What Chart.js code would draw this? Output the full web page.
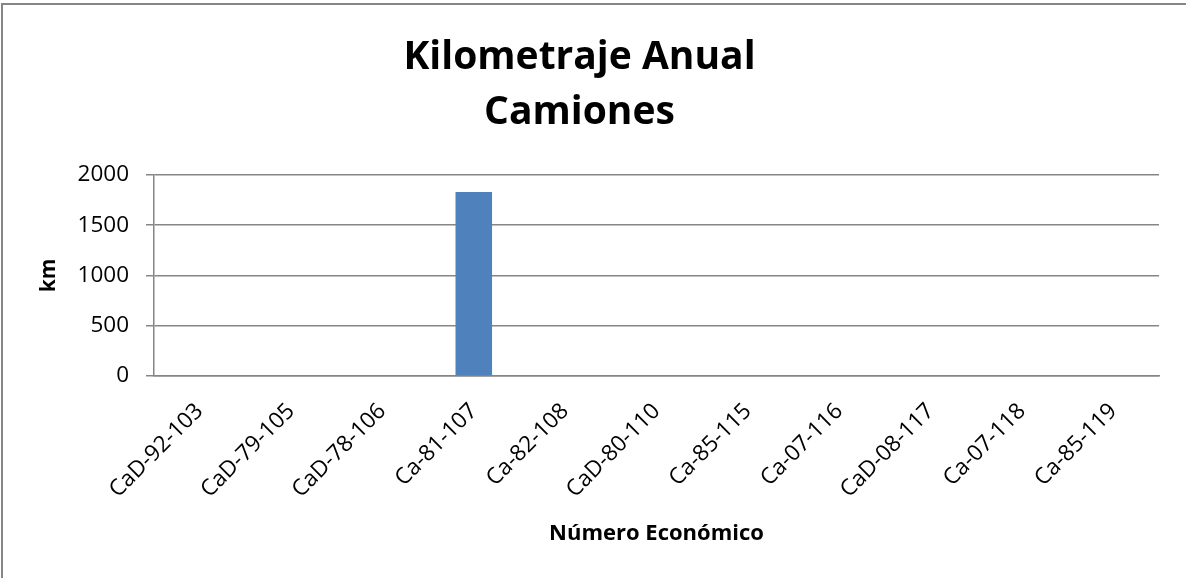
<!DOCTYPE html>
<html>
<head>
<meta charset="utf-8">
<script src="https://cdn.jsdelivr.net/npm/chart.js@4/dist/chart.umd.min.js"></script>
<style>
  html, body { margin: 0; padding: 0; background: #fff; overflow: hidden; }
  #wrap { position: relative; width: 1186px; height: 578px; }
  #frame {
    position: absolute; left: 1px; top: 3px; right: -10px; bottom: -10px;
    border: 2px solid #868686; pointer-events: none;
  }
</style>
</head>
<body>
<div id="wrap">
  <canvas id="kmChart" width="1186" height="578"></canvas>
  <div id="frame"></div>
</div>
<script>
// chart data
const camiones = [
  "CaD-92-103", "CaD-79-105", "CaD-78-106", "Ca-81-107", "Ca-82-108",
  "CaD-80-110", "Ca-85-115", "Ca-07-116", "CaD-08-117", "Ca-07-118", "Ca-85-119"
];
const kilometraje = [0, 0, 0, 1830, 0, 0, 0, 0, 0, 0, 0];
const yTicks = [0, 500, 1000, 1500, 2000];

const fontFam = "'Open Sans', Lato, sans-serif";

// build the bar chart
function createChart() {
  const ctx = document.getElementById("kmChart").getContext("2d");
  return new Chart(ctx, {
    type: "bar",
    data: {
      labels: [...camiones],
      datasets: [
        {
          label: "km",
          data: [...kilometraje],
          backgroundColor: "#4F81BD",
          categoryPercentage: 1.0,
          barPercentage: 0.4,
        },
      ],
    },
    options: {
      responsive: false,
      animation: false,
      layout: { padding: { top: 0, right: 27, bottom: 0, left: 0 } },
      scales: {
        x: {
          grid: { display: false },
          border: { display: true, color: "#868686", width: 1.5 },
          ticks: {
            color: "#000",
            font: { family: fontFam, size: 22.5 },
            minRotation: 45,
            maxRotation: 45,
            padding: 14,
          },
          title: {
            display: true,
            text: "Número Económico",
            color: "#000",
            font: { family: fontFam, size: 22, weight: "bold" },
            padding: { top: 0, bottom: 31 },
          },
          afterFit: (scale) => { scale.height = 202; },
        },
        y: {
          min: 0,
          max: 2000,
          afterBuildTicks: (scale) => { scale.ticks = yTicks.map((v) => ({ value: v })); },
          grid: { color: "#868686", lineWidth: 1.5, tickLength: 8, drawTicks: true },
          border: { display: true, color: "#868686", width: 1.5 },
          ticks: {
            color: "#000",
            font: { family: fontFam, size: 22.5 },
            padding: 17,
            callback: (v) => String(v),
          },
          title: {
            display: true,
            text: "km",
            color: "#000",
            font: { family: fontFam, size: 21, weight: "bold" },
            padding: { top: 36, bottom: 0 },
          },
          afterFit: (scale) => { scale.width = 154; },
        },
      },
      plugins: {
        legend: { display: false },
        tooltip: { enabled: false },
        title: {
          display: true,
          text: ["Kilometraje Anual", "Camiones"],
          color: "#000",
          font: { family: fontFam, size: 39, weight: "bold", lineHeight: 1.41 },
          padding: { top: 30, bottom: 35 },
        },
      },
    },
  });
}

createChart();
</script>
</body>
</html>
